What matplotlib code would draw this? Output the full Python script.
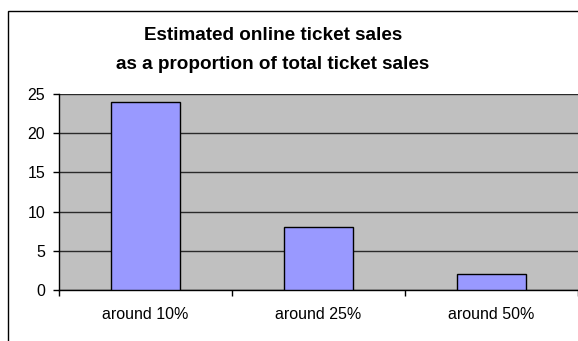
import matplotlib.pyplot as plt
from matplotlib.patches import Rectangle

# --- data ---
categories = ["around 10%", "around 25%", "around 50%"]
counts = [24, 8, 2]
y_ticks = [0, 5, 10, 15, 20, 25]

W, H = 578, 341
fig = plt.figure(figsize=(W / 100, H / 100), dpi=100)
fig.patch.set_facecolor("white")

# chart frame (runs off the right and bottom edges)
fig.add_artist(Rectangle((8 / W, -0.1), 1.2, (H - 10.5) / H + 0.1,
                         transform=fig.transFigure, fill=False,
                         edgecolor="black", linewidth=1.0))

# plot area in pixel coords: x 59..578, y 94..290
ax = fig.add_axes([59 / W, (H - 290) / H, (578 - 59) / W, (290 - 94) / H])
ax.set_facecolor("#C0C0C0")

x = range(len(categories))
ax.bar(x, counts, width=0.404, color="#9999FF", edgecolor="black",
       linewidth=1.0, zorder=3)

ax.set_xlim(-0.5, len(categories) - 0.5)
ax.set_ylim(0, 25)
ax.set_yticks(y_ticks)
ax.yaxis.grid(True, color="#2a2a2a", linewidth=1.0, zorder=1)
ax.set_axisbelow(True)

# category labels between boundary ticks
ax.set_xticks([i + 0.5 for i in range(-1, len(categories))])
ax.set_xticklabels([])
ax.set_xticks(list(x), minor=True)
ax.set_xticklabels(categories, minor=True, fontsize=11.5,
                   family="Liberation Sans")
ax.tick_params(axis="x", which="minor", length=0, pad=12)
ax.tick_params(axis="x", which="major", length=4, width=1, direction="out")
ax.tick_params(axis="y", length=4, width=1, direction="out", pad=6,
               labelsize=11.5)
for lbl in ax.get_yticklabels():
    lbl.set_family("Liberation Sans")

for side in ["top", "right"]:
    ax.spines[side].set_visible(False)
for side in ["left", "bottom"]:
    ax.spines[side].set_color("black")
    ax.spines[side].set_linewidth(1.0)

fig.text(273 / W, 1 - 50 / H,
         "Estimated online ticket sales\nas a proportion of total ticket sales",
         ha="center", va="center", fontsize=13.6, fontweight="bold",
         family="Liberation Sans", linespacing=1.9)

fig.savefig("out.png", dpi=100)
